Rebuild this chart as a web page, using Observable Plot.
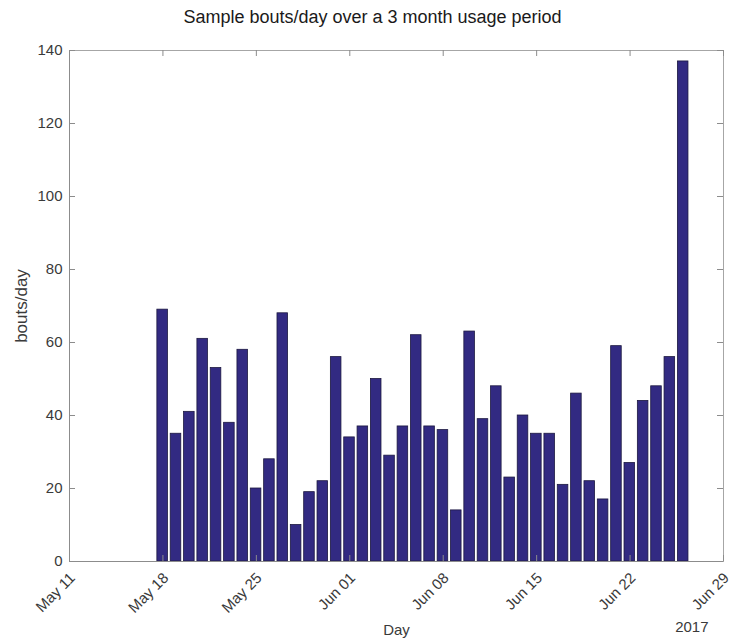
<!DOCTYPE html>
<html><head><meta charset="utf-8">
<script src="https://cdn.jsdelivr.net/npm/d3@7"></script>
<script src="https://cdn.jsdelivr.net/npm/@observablehq/plot@0.6"></script>
<style>
body{margin:0;background:#fff;font-family:"Liberation Sans",Arial,sans-serif}
#title{height:30px;padding-top:6px;text-align:center;font-size:18px;line-height:22px;color:#1a1a1a;padding-left:12px;box-sizing:content-box}
</style></head><body>
<div id="title">Sample bouts/day over a 3 month usage period</div>
<div id="chart"></div>
<script>
const firstDay = "2017-05-18";
const lastDay = "2017-06-26";
const boutsPerDay = [69,35,41,61,53,38,58,20,28,68,10,19,22,56,34,37,50,29,37,62,37,36,14,63,39,48,23,40,35,35,21,46,22,17,59,27,44,48,56,137];
const xDomain = ["2017-05-11","2017-06-29"];
const xTickDates = ["2017-05-11","2017-05-18","2017-05-25","2017-06-01","2017-06-08","2017-06-15","2017-06-22","2017-06-29"];
const yTicks = [0,20,40,60,80,100,120,140];
const yDomain = [0,140];
const xLabel = "Day";
const yLabel = "bouts/day";
const yearLabel = "2017";

const days = d3.utcDay.range(new Date(firstDay), d3.utcDay.offset(new Date(lastDay), 1));
const data = days.map((d, i) => ({date: d, value: boutsPerDay[i]}));
const xt = xTickDates.map(s => new Date(s));

const W = 733, H = 605, mt = 14, mb = 80, ml = 69, mr = 10;
const fh = H - mt - mb, fw = W - ml - mr;
const textColor = "#3a3a3a";
const axisColor = "#8c8c8c";

const chart = Plot.plot({
  width: W, height: H,
  marginTop: mt, marginBottom: mb, marginLeft: ml, marginRight: mr,
  style: {fontFamily: '"Liberation Sans", Arial, sans-serif', fontSize: "15px", color: textColor, background: "#fff"},
  x: {type: "utc", domain: xDomain.map(s => new Date(s))},
  y: {domain: yDomain},
  marks: [
    Plot.rectY(data, {
      x1: d => d3.utcHour.offset(d.date, -9.8),
      x2: d => d3.utcHour.offset(d.date, 9.8),
      y: "value",
      fill: "#322a82", stroke: "#1c1840", strokeWidth: 0.8
    }),
    Plot.frame({stroke: "#a6a6a6"}),
    Plot.ruleY([0], {stroke: axisColor}),
    Plot.ruleX([new Date(xDomain[0])], {stroke: axisColor}),
    Plot.tickX(xt, {x: d => d, insetTop: fh - 6, stroke: axisColor}),
    Plot.tickX(xt, {x: d => d, insetBottom: fh - 6, stroke: axisColor}),
    Plot.tickY(yTicks, {y: d => d, insetRight: fw - 6, stroke: axisColor}),
    Plot.tickY(yTicks, {y: d => d, insetLeft: fw - 6, stroke: axisColor}),
    Plot.axisX({ticks: xt, tickFormat: d3.utcFormat("%b %d"), tickSize: 0, tickRotate: -45, tickPadding: 12,
      dx: 3, dy: 2, fontSize: 15, fill: textColor, label: null}),
    Plot.axisX({ticks: [], tickSize: 0,
      label: xLabel, labelAnchor: "center", labelArrow: "none", labelOffset: 73}),
    Plot.axisY({ticks: yTicks, tickSize: 0, tickPadding: 7, fontSize: 15, fill: textColor,
      label: yLabel, labelAnchor: "center", labelArrow: "none", labelOffset: 55}),
    Plot.text([yearLabel], {frameAnchor: "bottom-right", dy: 70, dx: -15, fontSize: 15, fill: textColor})
  ]
});
chart.querySelectorAll('[aria-label="x-axis label"] text').forEach(t => { t.style.fontSize = "15px"; t.setAttribute("fill", textColor); });
chart.querySelectorAll('[aria-label="y-axis label"] text').forEach(t => t.style.fontSize = "17px");
document.getElementById("chart").appendChild(chart);
</script>
</body></html>
